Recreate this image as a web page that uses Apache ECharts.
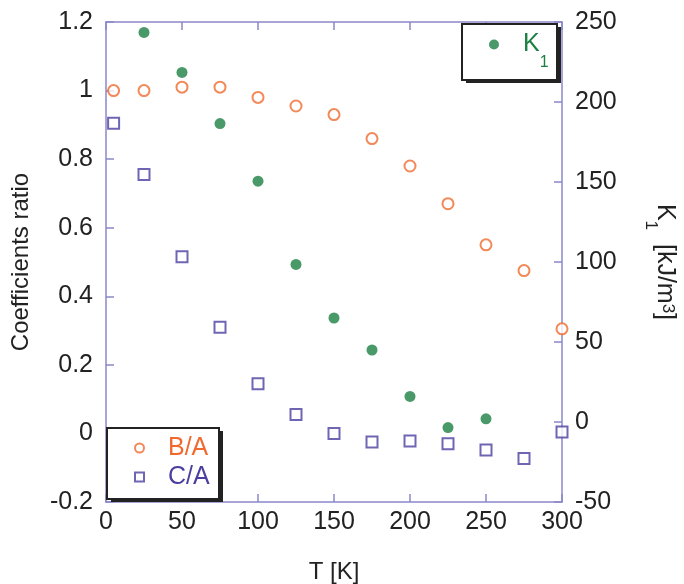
<!DOCTYPE html>
<html>
<head>
<meta charset="utf-8">
<script src="https://cdn.jsdelivr.net/npm/echarts@6/dist/echarts.min.js"></script>
<style>
  html, body { margin: 0; padding: 0; background: #fff; }
  #chart { width: 684px; height: 584px; }
</style>
</head>
<body>
<div id="chart"></div>
<script>
// temperatures [K]
const temps = [5, 25, 50, 75, 100, 125, 150, 175, 200, 225, 250, 275, 300];
const ratioBA = [1.00, 1.00, 1.01, 1.01, 0.98, 0.955, 0.93, 0.86, 0.78, 0.67, 0.55, 0.475, 0.305];
const ratioCA = [0.905, 0.755, 0.515, 0.31, 0.145, 0.055, 0.0, -0.025, -0.022, -0.03, -0.048, -0.073, 0.004];
// K1 [kJ/m3]
const kTemps = [25, 50, 75, 100, 125, 150, 175, 200, 225, 250];
const k1 = [243.5, 218.5, 186.5, 150.5, 98.5, 65, 45, 16, -3.5, 2];

const FONT = 'Liberation Sans, Arial, Helvetica, sans-serif';
const AXIS = '#8a88c8';
const TXT = '#222';
const ORANGE = '#f06a30';
const BLUE = '#4a3fa0';
const GREEN = '#1b8044';

const zip = (xs, ys) => xs.map((x, i) => [x, ys[i]]);

const chart = echarts.init(document.getElementById('chart'));

const tickLabel = { fontSize: 25, color: TXT, fontFamily: FONT };
const axisLine = { show: true, onZero: false, lineStyle: { color: AXIS, width: 1.5 } };
const axisTick = { show: true, inside: true, length: 8, lineStyle: { color: AXIS, width: 1.5 } };

// legend frames with a hard drop shadow
const frame = (x, y, w, h) => [
    { type: 'rect', z: 3, shape: { x: x + 4, y: y + 3, width: w, height: h }, style: { fill: '#222' } },
    { type: 'rect', z: 3, shape: { x: x, y: y, width: w, height: h }, style: { fill: '#fff', stroke: '#222', lineWidth: 2 } }
];

const option = {
    animation: false,
    backgroundColor: '#fff',
    grid: { left: 106, right: 122, top: 22, bottom: 82, outerBoundsMode: 'none' },
    graphic: [].concat(frame(462, 24, 95, 56), frame(107, 428, 112, 71)),
    xAxis: [
        {
            type: 'value', position: 'bottom', min: 0, max: 300, interval: 50,
            axisLine: axisLine, axisTick: axisTick, splitLine: { show: false },
            axisLabel: Object.assign({ margin: 8 }, tickLabel),
            name: 'T [K]', nameLocation: 'middle', nameGap: 58, nameMoveOverlap: false,
            nameTextStyle: { fontSize: 24, color: TXT, fontFamily: FONT }
        },
        {
            type: 'value', position: 'top', min: 0, max: 300, interval: 50,
            axisLine: axisLine, axisTick: axisTick, splitLine: { show: false },
            axisLabel: { show: false }
        }
    ],
    yAxis: [
        {
            type: 'value', position: 'left', min: -0.2, max: 1.2, interval: 0.2,
            axisLine: axisLine, axisTick: axisTick, splitLine: { show: false },
            axisLabel: Object.assign({ margin: 13 }, tickLabel),
            name: 'Coefficients ratio', nameLocation: 'middle', nameGap: 73, nameMoveOverlap: false,
            nameTextStyle: { fontSize: 24, color: TXT, fontFamily: FONT }
        },
        {
            type: 'value', position: 'right', min: -50, max: 250, interval: 50,
            axisLine: axisLine, axisTick: axisTick, splitLine: { show: false },
            axisLabel: Object.assign({ margin: 13 }, tickLabel),
            name: '{a|K}{s|1}{a|  [kJ/m}{p|3}{a|]}', nameLocation: 'middle', nameGap: 80,
            nameRotate: -90, nameMoveOverlap: false,
            nameTextStyle: {
                fontFamily: FONT, color: TXT,
                rich: {
                    a: { fontSize: 25, lineHeight: 46, color: TXT, fontFamily: FONT },
                    s: { fontSize: 17, lineHeight: 10, verticalAlign: 'bottom', color: TXT, fontFamily: FONT },
                    p: { fontSize: 17, lineHeight: 10, verticalAlign: 'top', padding: [12, 0, 0, 0], color: TXT, fontFamily: FONT }
                }
            }
        }
    ],
    legend: [
        {
            data: ['K1'],
            left: 489, top: 32, z: 4,
            itemWidth: 10, itemHeight: 10,
            padding: 0,
            formatter: () => '{k|K}{s|1}',
            textStyle: {
                padding: [0, 0, 0, 19],
                rich: {
                    k: { fontSize: 25, lineHeight: 52, color: GREEN, fontFamily: FONT },
                    s: { fontSize: 16, lineHeight: 10, verticalAlign: 'bottom', color: GREEN, fontFamily: FONT }
                }
            }
        },
        {
            data: [
                { name: 'B/A', textStyle: { color: ORANGE } },
                { name: 'C/A', textStyle: { color: BLUE } }
            ],
            orient: 'vertical',
            left: 134, top: 434, z: 4,
            itemWidth: 9, itemHeight: 9, itemGap: 1,
            padding: 0,
            textStyle: { fontSize: 25, lineHeight: 28, fontFamily: FONT, padding: [0, 0, 0, 19] }
        }
    ],
    series: [
        {
            name: 'B/A', type: 'scatter', xAxisIndex: 0, yAxisIndex: 0,
            symbol: 'emptyCircle', symbolSize: 11,
            itemStyle: { color: ORANGE, borderColor: ORANGE, borderWidth: 1.3 },
            data: zip(temps, ratioBA)
        },
        {
            name: 'C/A', type: 'scatter', xAxisIndex: 0, yAxisIndex: 0,
            symbol: 'emptyRect', symbolSize: 11,
            itemStyle: { color: BLUE, borderColor: BLUE, borderWidth: 1.3 },
            data: zip(temps, ratioCA)
        },
        {
            name: 'K1', type: 'scatter', xAxisIndex: 0, yAxisIndex: 1,
            symbol: 'circle', symbolSize: 11,
            itemStyle: { color: GREEN },
            data: zip(kTemps, k1)
        }
    ]
};

chart.setOption(option);
</script>
</body>
</html>
